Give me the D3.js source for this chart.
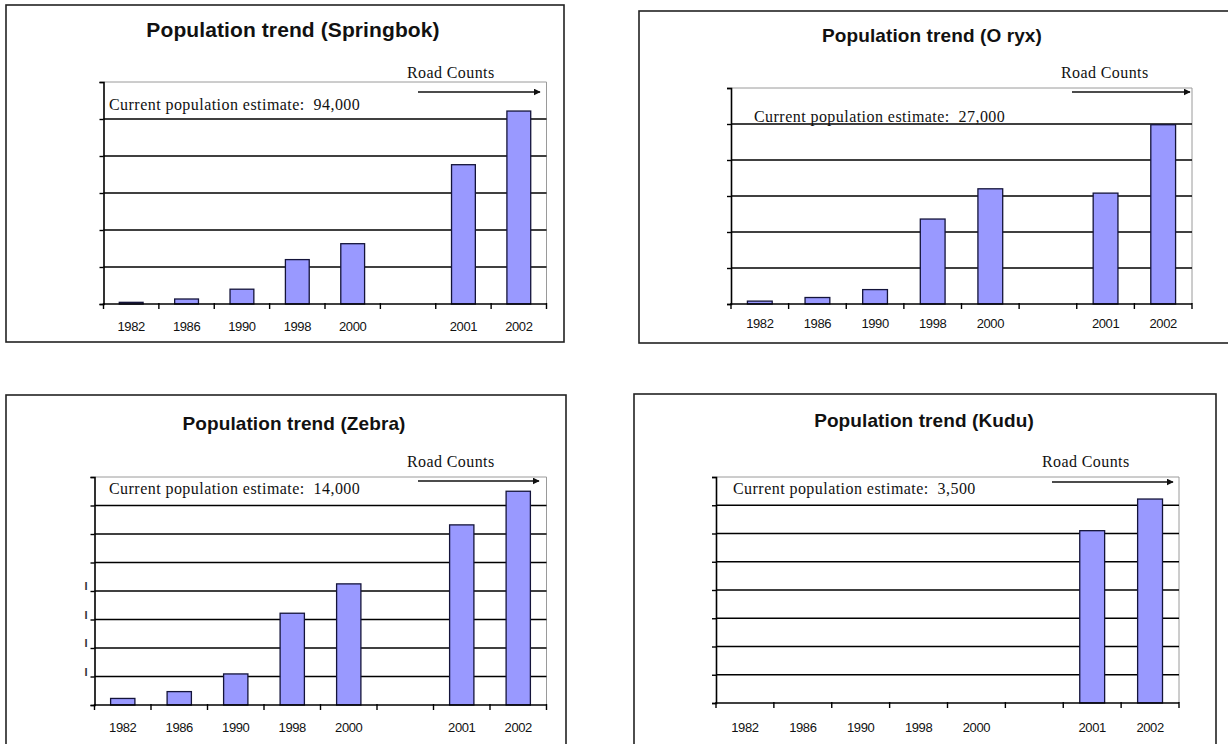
<!DOCTYPE html>
<html>
<head>
<meta charset="utf-8">
<script src="https://cdn.jsdelivr.net/npm/d3@7"></script>
<style>
  html, body { margin: 0; padding: 0; background: #fff; }
  svg { display: block; }
</style>
</head>
<body>
<svg id="chart" width="1228" height="744"></svg>
<script>
// Survey years on the category axis; the empty slot separates aerial from road counts
const years = ["1982", "1986", "1990", "1998", "2000", "", "2001", "2002"];

// Counted animals per survey year (null = no count)
const springbokCounts = [900, 2700, 8000, 24000, 32600, null, 75300, 104300];
const oryxCounts      = [400, 900, 2000, 11800, 16000, null, 15400, 24900];
const zebraCounts     = [460, 940, 2180, 6440, 8500, null, 12640, 15000];
const kuduCounts      = [null, null, null, null, null, null, 3050, 3610];

// Value-axis ticks for each chart (labels left blank on the printed charts)
const springbokTicks = [0, 20000, 40000, 60000, 80000, 100000, 120000];
const oryxTicks      = [0, 5000, 10000, 15000, 20000, 25000, 30000];
const zebraTicks     = [0, 2000, 4000, 6000, 8000, 10000, 12000, 14000, 16000];
const kuduTicks      = [0, 500, 1000, 1500, 2000, 2500, 3000, 3500, 4000];

// Species names and the current population estimates
const species   = ["Springbok", "O ryx", "Zebra", "Kudu"];
const estimates = ["94,000", "27,000", "14,000", "3,500"];

const svg = d3.select("#chart");

// Panel layout: frame, plot area and text anchors
const panels = [
  { name: species[0], est: estimates[0], values: springbokCounts, ticks: springbokTicks, titleSize: 21,
    box: [6, 5, 564, 342], px: [103.5, 546.5], py: [82, 304], titleX: 293, titleY: 37,
    roadX: 407, roadY: 78, arrowY: 92, arrowX: [418, 540], estX: 109, estY: 110, labY: 331 },
  { name: species[1], est: estimates[1], values: oryxCounts, ticks: oryxTicks, titleSize: 19,
    box: [639, 11, 1234, 343], px: [731, 1192], py: [88, 304], titleX: 932, titleY: 42,
    roadX: 1061, roadY: 78, arrowY: 92, arrowX: [1072, 1190], estX: 754, estY: 122, labY: 328 },
  { name: species[2], est: estimates[2], values: zebraCounts, ticks: zebraTicks, titleSize: 19, stubs: [2000, 4000, 6000, 8000],
    box: [6, 395, 566, 752], px: [94.5, 546.5], py: [477, 705], titleX: 294, titleY: 430,
    roadX: 407, roadY: 467, arrowY: 481, arrowX: [418, 539], estX: 109, estY: 494, labY: 732 },
  { name: species[3], est: estimates[3], values: kuduCounts, ticks: kuduTicks, titleSize: 19,
    box: [634, 394, 1216, 752], px: [716, 1179], py: [477, 703], titleX: 924, titleY: 427,
    roadX: 1042, roadY: 467, arrowY: 482, arrowX: [1052, 1173], estX: 733, estY: 494, labY: 732 }
];

const defs = svg.append("defs");
defs.append("marker")
  .attr("id", "arrowhead")
  .attr("viewBox", "0 0 10 10")
  .attr("refX", 9).attr("refY", 5)
  .attr("markerWidth", 7).attr("markerHeight", 7)
  .attr("markerUnits", "userSpaceOnUse")
  .attr("orient", "auto")
  .append("path")
  .attr("d", "M0,0 L10,5 L0,10 Z")
  .attr("fill", "#111");

panels.forEach(p => {
  const g = svg.append("g");

  // outer frame
  g.append("rect")
    .attr("x", p.box[0]).attr("y", p.box[1])
    .attr("width", p.box[2] - p.box[0]).attr("height", p.box[3] - p.box[1])
    .attr("fill", "#fff").attr("stroke", "#222").attr("stroke-width", 1.6);

  // title
  g.append("text")
    .attr("x", p.titleX).attr("y", p.titleY)
    .attr("text-anchor", "middle")
    .attr("font-family", "Liberation Sans, Arial, sans-serif")
    .attr("font-weight", "bold")
    .attr("font-size", p.titleSize)
    .attr("letter-spacing", 0.1)
    .attr("fill", "#111")
    .text(`Population trend (${p.name})`);

  const x = d3.scaleBand().domain(years).range(p.px).paddingInner(0).paddingOuter(0);
  const yMax = p.ticks[p.ticks.length - 1];
  const y = d3.scaleLinear().domain([0, yMax]).range([p.py[1], p.py[0]]);

  // plot area outline (top and right edges, light grey)
  g.append("path")
    .attr("d", `M${p.px[0]},${p.py[0]}H${p.px[1]}V${p.py[1]}`)
    .attr("fill", "none").attr("stroke", "#9a9a9a").attr("stroke-width", 1);

  // horizontal gridlines
  g.append("g").selectAll("line")
    .data(p.ticks.slice(1, -1))
    .join("line")
    .attr("x1", p.px[0]).attr("x2", p.px[1])
    .attr("y1", d => y(d)).attr("y2", d => y(d))
    .attr("stroke", "#000").attr("stroke-width", 1.4);

  // bars
  const bw = x.bandwidth() * 0.43;
  g.append("g").selectAll("rect")
    .data(years.map((yr, i) => ({ yr, v: p.values[i] })).filter(d => d.v != null))
    .join("rect")
    .attr("x", d => x(d.yr) + (x.bandwidth() - bw) / 2)
    .attr("width", bw)
    .attr("y", d => y(d.v))
    .attr("height", d => y(0) - y(d.v))
    .attr("fill", "#9999ff")
    .attr("stroke", "#14143a")
    .attr("stroke-width", 1.3);

  // value axis (no labels)
  const yAxis = d3.axisLeft(y).tickValues(p.ticks).tickSize(4).tickFormat("");
  const ya = g.append("g").attr("transform", `translate(${p.px[0]},0)`).call(yAxis);
  ya.select(".domain").attr("stroke", "#000").attr("stroke-width", 1.6);
  ya.selectAll(".tick line").attr("stroke", "#000").attr("stroke-width", 1.4);

  // faint stubs left of a few ticks on the zebra chart
  if (p.stubs) {
    g.append("g").selectAll("text")
      .data(p.stubs)
      .join("text")
      .attr("x", p.px[0] - 7).attr("y", d => y(d) - 1)
      .attr("text-anchor", "end")
      .attr("font-family", "Liberation Sans, Arial, sans-serif")
      .attr("font-size", 11)
      .attr("font-weight", "bold")
      .attr("fill", "#333")
      .text("I");
  }

  // category axis: tick marks on band boundaries, labels at band centres
  const edges = d3.range(years.length + 1).map(i => p.px[0] + i * x.step());
  g.append("line")
    .attr("x1", p.px[0]).attr("x2", p.px[1])
    .attr("y1", p.py[1]).attr("y2", p.py[1])
    .attr("stroke", "#000").attr("stroke-width", 1.6);
  g.append("g").selectAll("line")
    .data(edges)
    .join("line")
    .attr("x1", d => d).attr("x2", d => d)
    .attr("y1", p.py[1] - 1).attr("y2", p.py[1] + 5)
    .attr("stroke", "#000").attr("stroke-width", 1.4);
  g.append("g").selectAll("text")
    .data(years.filter(d => d !== ""))
    .join("text")
    .attr("x", d => x(d) + x.bandwidth() / 2)
    .attr("y", p.labY)
    .attr("text-anchor", "middle")
    .attr("font-family", "Liberation Sans, Arial, sans-serif")
    .attr("font-size", 13)
    .attr("letter-spacing", -0.4)
    .attr("fill", "#111")
    .text(d => d);

  // road-count annotation with arrow
  g.append("text")
    .attr("x", p.roadX).attr("y", p.roadY)
    .attr("font-family", "Liberation Serif, Times New Roman, serif")
    .attr("font-size", 16)
    .attr("letter-spacing", 0.4)
    .attr("fill", "#111")
    .text("Road Counts");
  g.append("line")
    .attr("x1", p.arrowX[0]).attr("x2", p.arrowX[1])
    .attr("y1", p.arrowY).attr("y2", p.arrowY)
    .attr("stroke", "#111").attr("stroke-width", 1.5)
    .attr("marker-end", "url(#arrowhead)");

  // current estimate note
  g.append("text")
    .attr("x", p.estX).attr("y", p.estY)
    .attr("font-family", "Liberation Serif, Times New Roman, serif")
    .attr("font-size", 16)
    .attr("letter-spacing", 0.45)
    .attr("fill", "#111")
    .attr("xml:space", "preserve")
    .style("white-space", "pre")
    .text(`Current population estimate:  ${p.est}`);
});
</script>
</body>
</html>
